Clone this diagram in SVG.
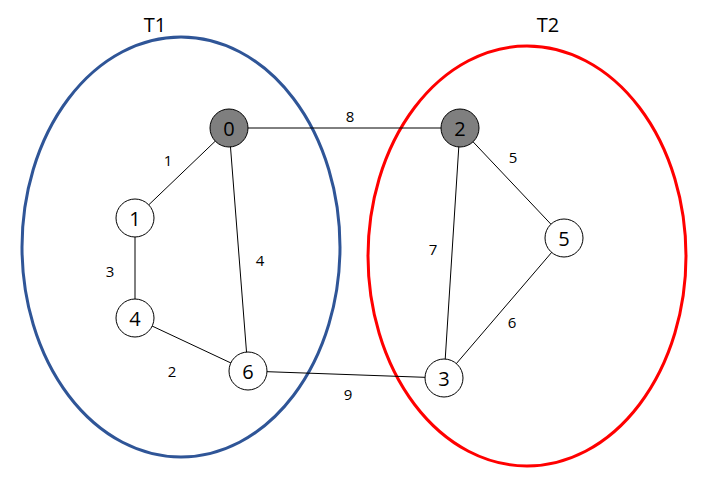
<svg xmlns="http://www.w3.org/2000/svg" width="717" height="496" viewBox="0 0 717 496">
<style>
.node circle{stroke:#000;stroke-width:1}
.w{fill:#fff}
.g{fill:#7f7f7f}
.nl{font-family:"Open Sans","Liberation Sans",sans-serif;font-size:20px;text-anchor:middle;dominant-baseline:central;fill:#000}
.el{font-family:"Open Sans","Liberation Sans",sans-serif;font-size:15px;text-anchor:middle;dominant-baseline:central;fill:#000}
.tl{font-family:"Open Sans","Liberation Sans",sans-serif;font-size:20px;text-anchor:middle;dominant-baseline:central;fill:#000}
#edges line{stroke:#000;stroke-width:1}
</style>
<rect width="717" height="496" fill="#fff"/>
<g id="T1"><ellipse cx="181" cy="247" rx="159" ry="210" fill="none" stroke="#2F5597" stroke-width="3"/><text class="tl" x="155" y="24">T1</text></g>
<g id="T2"><ellipse cx="527" cy="256" rx="159" ry="210" fill="none" stroke="#FF0000" stroke-width="3"/><text class="tl" x="548" y="24">T2</text></g>
<g id="edges">
<line x1="229" y1="128" x2="460" y2="128"/>
<line x1="229" y1="128" x2="135" y2="218"/>
<line x1="229" y1="128" x2="248" y2="371"/>
<line x1="135" y1="218" x2="135" y2="318"/>
<line x1="135" y1="318" x2="248" y2="371"/>
<line x1="248" y1="371" x2="444" y2="378"/>
<line x1="460" y1="128" x2="564" y2="238"/>
<line x1="460" y1="128" x2="444" y2="378"/>
<line x1="564" y1="238" x2="444" y2="378"/>
<text class="el" x="350" y="116">8</text>
<text class="el" x="168" y="160">1</text>
<text class="el" x="110" y="271">3</text>
<text class="el" x="260" y="260">4</text>
<text class="el" x="172" y="371">2</text>
<text class="el" x="348" y="394">9</text>
<text class="el" x="513" y="157">5</text>
<text class="el" x="433" y="249">7</text>
<text class="el" x="512" y="322">6</text>
</g>
<g id="n0" class="node"><circle class="g" cx="229" cy="128" r="19"/><text class="nl" x="229" y="128">0</text></g>
<g id="n2" class="node"><circle class="g" cx="460" cy="128" r="19"/><text class="nl" x="460" y="128">2</text></g>
<g id="n1" class="node"><circle class="w" cx="135" cy="218" r="19"/><text class="nl" x="135" y="218">1</text></g>
<g id="n4" class="node"><circle class="w" cx="135" cy="318" r="19"/><text class="nl" x="135" y="318">4</text></g>
<g id="n6" class="node"><circle class="w" cx="248" cy="371" r="19"/><text class="nl" x="248" y="371">6</text></g>
<g id="n5" class="node"><circle class="w" cx="564" cy="238" r="19"/><text class="nl" x="564" y="238">5</text></g>
<g id="n3" class="node"><circle class="w" cx="444" cy="378" r="19"/><text class="nl" x="444" y="378">3</text></g>
</svg>
